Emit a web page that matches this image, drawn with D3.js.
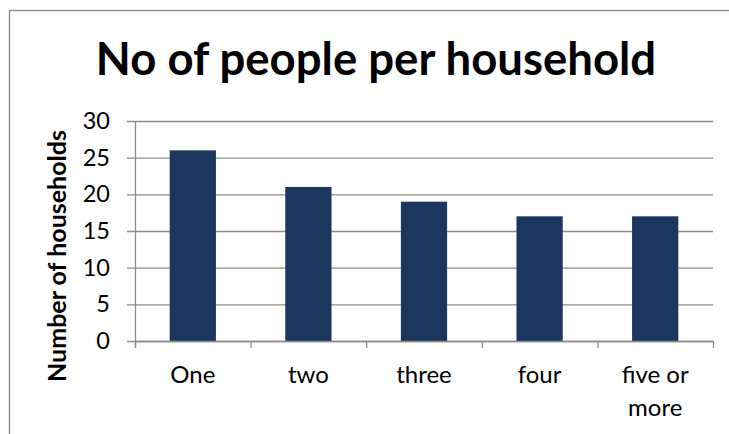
<!DOCTYPE html>
<html>
<head>
<meta charset="utf-8">
<script src="https://cdn.jsdelivr.net/npm/d3@7"></script>
<style>
  html, body { margin: 0; padding: 0; background: #fff; }
  svg { display: block; }
  text { font-family: Lato, "Open Sans", sans-serif; fill: #000; }
</style>
</head>
<body>
<svg id="chart" width="729" height="434"></svg>
<script>
// Household size survey
const categories = ["One", "two", "three", "four", "five or more"];
const households = [26, 21, 19, 17, 17];
const yTicks = [0, 5, 10, 15, 20, 25, 30];
const titleText = "No of people per household";
const yAxisTitle = "Number of households";

const svg = d3.select("#chart");
const W = 729, H = 434;
const margin = { left: 135, right: 16, top: 121, bottom: 93 };

// outer chart frame
svg.append("rect")
  .attr("x", 9.5).attr("y", 10.5)
  .attr("width", 760).attr("height", 460)
  .attr("fill", "#fff").attr("stroke", "#888").attr("stroke-width", 1.3);

const x = d3.scaleBand()
  .domain(categories)
  .range([margin.left, W - margin.right])
  .paddingInner(0.6).paddingOuter(0.3);

const y = d3.scaleLinear()
  .domain([0, 30])
  .range([H - margin.bottom, margin.top]);

// gridlines + y axis
const yAxis = d3.axisLeft(y).tickValues(yTicks).tickSize(-(W - margin.right - margin.left)).tickSizeOuter(0).tickPadding(25);
const gy = svg.append("g").attr("transform", `translate(${margin.left},0)`).call(yAxis);
gy.select(".domain").remove();
gy.selectAll(".tick line").attr("stroke", "#8c8c8c").attr("stroke-width", 1.3).attr("x1", -8);
gy.selectAll(".tick text").attr("font-size", 23.5).attr("font-family", "Lato, sans-serif").attr("fill", "#000");

// vertical axis line
svg.append("line")
  .attr("x1", margin.left + 0.5).attr("x2", margin.left + 0.5)
  .attr("y1", y(30)).attr("y2", y(0) + 7)
  .attr("stroke", "#8c8c8c").attr("stroke-width", 1.3);

// bars
svg.append("g").selectAll("rect")
  .data(categories)
  .join("rect")
  .attr("x", d => x(d))
  .attr("width", x.bandwidth())
  .attr("y", (d, i) => y(households[i]))
  .attr("height", (d, i) => y(0) - y(households[i]))
  .attr("fill", "#1b375e");

// category axis with ticks between bands
const step = x.step();
const x0 = margin.left;
const bottomY = y(0);
svg.append("line")
  .attr("x1", x0).attr("x2", W - margin.right)
  .attr("y1", bottomY + 0.5).attr("y2", bottomY + 0.5)
  .attr("stroke", "#8c8c8c").attr("stroke-width", 1.3);
svg.append("g").selectAll("line")
  .data(d3.range(categories.length + 1))
  .join("line")
  .attr("x1", i => x0 + i * step + 0.5).attr("x2", i => x0 + i * step + 0.5)
  .attr("y1", bottomY).attr("y2", bottomY + 7)
  .attr("stroke", "#8c8c8c").attr("stroke-width", 1.3);

// category labels, wrapped to band width
const labels = svg.append("g").selectAll("text")
  .data(categories)
  .join("text")
  .attr("text-anchor", "middle")
  .attr("font-size", 24)
  .attr("x", d => x(d) + x.bandwidth() / 2)
  .attr("y", 383);
labels.each(function(d) {
  const t = d3.select(this);
  const words = d.split(" ");
  let line = [];
  let tspan = t.append("tspan").attr("x", t.attr("x")).attr("dy", 0);
  words.forEach(w => {
    line.push(w);
    tspan.text(line.join(" "));
    if (tspan.node().getComputedTextLength() > step * 0.8 && line.length > 1) {
      line.pop();
      tspan.text(line.join(" "));
      line = [w];
      tspan = t.append("tspan").attr("x", t.attr("x")).attr("dy", 33).text(w);
    }
  });
});

// chart title
svg.append("text")
  .attr("x", 376).attr("y", 75)
  .attr("text-anchor", "middle")
  .attr("font-size", 45.5).attr("font-weight", "bold")
  .text(titleText);

// value axis title
svg.append("text")
  .attr("transform", "translate(66,256) rotate(-90)")
  .attr("text-anchor", "middle")
  .attr("font-size", 25).attr("font-weight", "bold")
  .text(yAxisTitle);
</script>
</body>
</html>
